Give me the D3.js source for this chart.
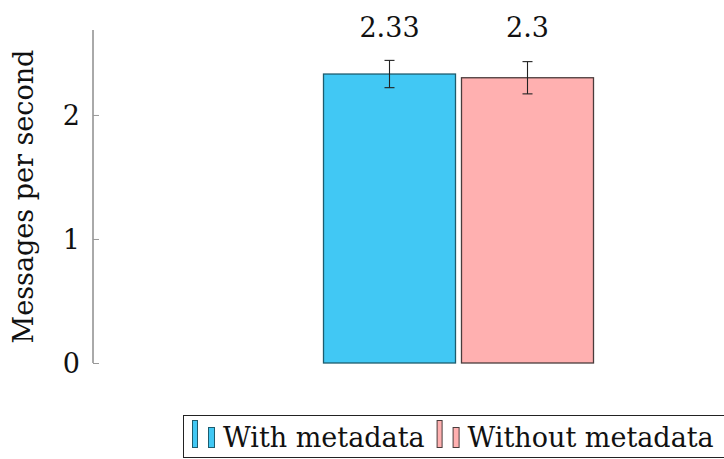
<!DOCTYPE html>
<html>
<head>
<meta charset="utf-8">
<script src="https://cdn.jsdelivr.net/npm/d3@7"></script>
<style>
  body { margin: 0; background: #fff; }
  text { font-family: "DejaVu Serif", serif; fill: #111; }
</style>
</head>
<body>
<div id="chart"></div>
<script>
const seriesNames = ["With metadata", "Without metadata"];
const seriesValues = [2.33, 2.3];
const seriesErrors = [0.11, 0.13];
const valueLabels = ["2.33", "2.3"];
const yTicks = [0, 1, 2];
const yTitle = "Messages per second";

const width = 724;
const height = 459;
const fills = ["#41c8f4", "#ffb0b0"];
const strokes = ["#1d5c6e", "#4a3c3c"];

const svg = d3.select("#chart")
	.append("svg")
	.attr("width", width)
	.attr("height", height);

const y = d3.scaleLinear()
	.domain([0, 2.685])
	.range([363, 30]);

const x = d3.scaleBand()
	.domain(seriesNames)
	.range([323, 594])
	.paddingInner(10 / 276)
	.paddingOuter(0);

// y axis: only the left line with short ticks
const axis = svg.append("g")
	.attr("transform", "translate(93,0)")
	.call(d3.axisRight(y).tickValues(yTicks).tickSize(6).tickFormat(""));
axis.select(".domain").attr("stroke", "#555").attr("d", `M0,${y(0)}V${y.range()[1]}`);
axis.selectAll(".tick line").attr("stroke", "#999");

svg.append("g")
	.selectAll("text")
	.data(yTicks)
	.join("text")
	.attr("x", 80)
	.attr("y", d => y(d) + 10)
	.attr("text-anchor", "end")
	.style("font-size", "27px")
	.text(d => d);

svg.append("text")
	.attr("transform", `translate(33,${(48 + 345) / 2}) rotate(-90)`)
	.attr("text-anchor", "middle")
	.style("font-size", "27px")
	.text(yTitle);

const bars = svg.append("g");
bars.selectAll("rect")
	.data(seriesValues)
	.join("rect")
	.attr("x", (d, i) => x(seriesNames[i]) + 0.5)
	.attr("y", d => y(d))
	.attr("width", x.bandwidth() - 1)
	.attr("height", d => y(0) - y(d))
	.attr("fill", (d, i) => fills[i])
	.attr("stroke", (d, i) => strokes[i])
	.attr("stroke-width", 1.3);

// error bars
const err = svg.append("g").attr("stroke", "#222").attr("stroke-width", 1.1);
seriesValues.forEach((v, i) => {
	const cx = x(seriesNames[i]) + x.bandwidth() / 2;
	const e = seriesErrors[i];
	err.append("line").attr("x1", cx).attr("x2", cx).attr("y1", y(v + e)).attr("y2", y(v - e));
	err.append("line").attr("x1", cx - 5).attr("x2", cx + 5).attr("y1", y(v + e)).attr("y2", y(v + e));
	err.append("line").attr("x1", cx - 5).attr("x2", cx + 5).attr("y1", y(v - e)).attr("y2", y(v - e));
});

svg.append("g")
	.selectAll("text")
	.data(valueLabels)
	.join("text")
	.attr("x", (d, i) => x(seriesNames[i]) + x.bandwidth() / 2)
	.attr("y", 37)
	.attr("text-anchor", "middle")
	.style("font-size", "27px")
	.text(d => d);

// legend
const legend = svg.append("g");
legend.append("rect")
	.attr("x", 183.5)
	.attr("y", 415.5)
	.attr("width", 560)
	.attr("height", 42)
	.attr("fill", "#fff")
	.attr("stroke", "#222");

let lx = 192;
seriesNames.forEach((name, i) => {
	legend.append("rect")
		.attr("x", lx + 0.5).attr("y", 420.5).attr("width", 5).attr("height", 27)
		.attr("fill", fills[i]).attr("stroke", strokes[i]);
	legend.append("rect")
		.attr("x", lx + 16.5).attr("y", 427.5).attr("width", 6).attr("height", 20)
		.attr("fill", fills[i]).attr("stroke", strokes[i]);
	const t = legend.append("text")
		.attr("x", lx + 31)
		.attr("y", 447)
		.style("font-size", "27px")
		.text(name);
	lx = lx + 31 + t.node().getComputedTextLength() + 12;
});
</script>
</body>
</html>
